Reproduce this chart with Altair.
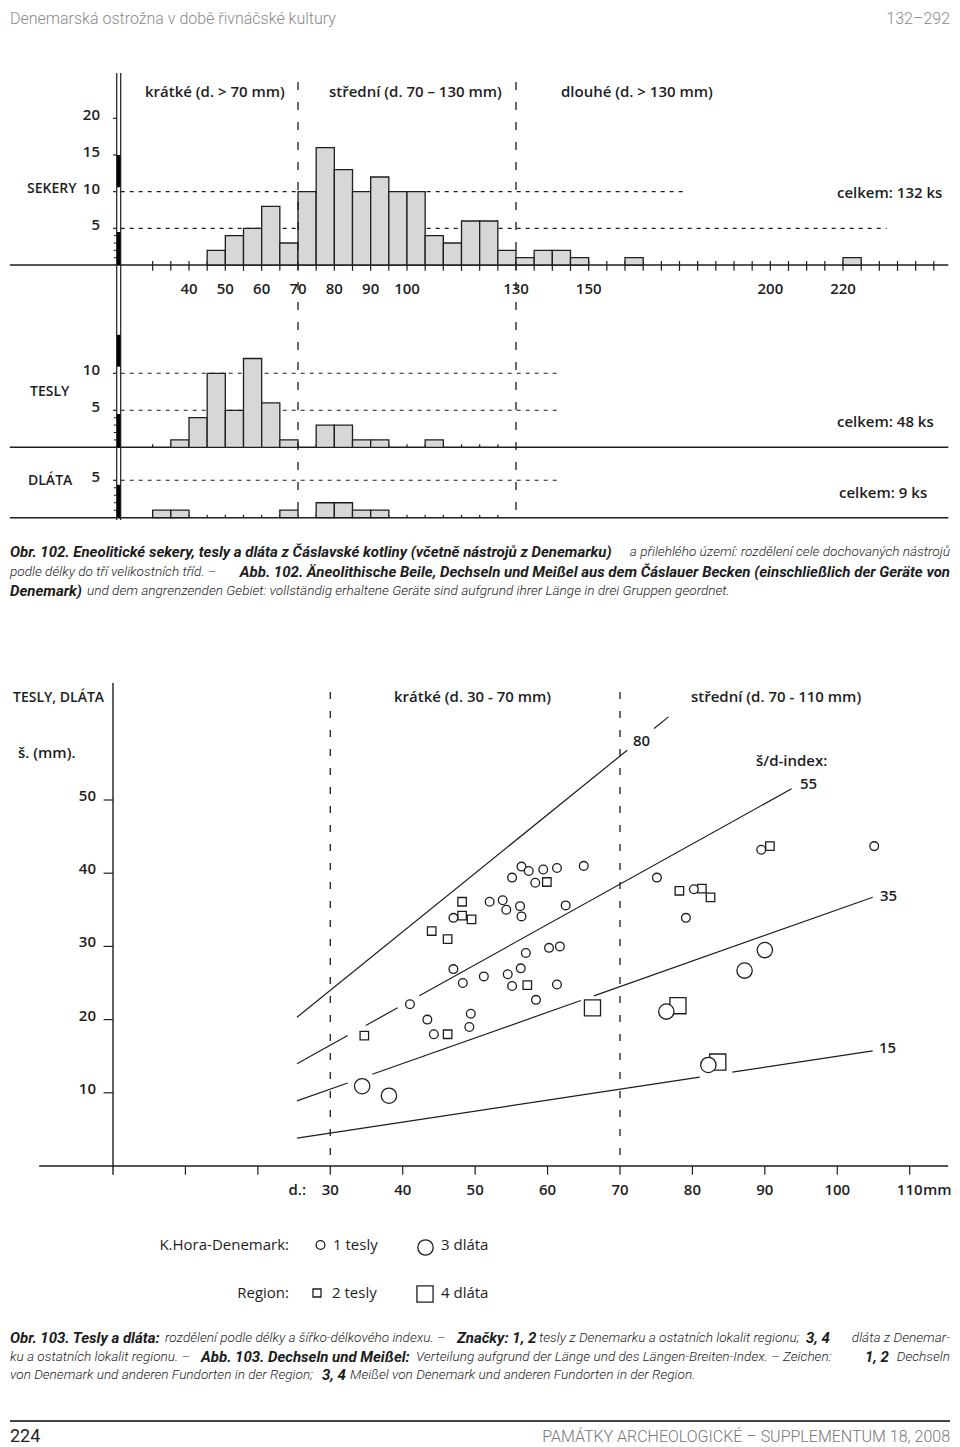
import altair as alt
import pandas as pd

# ===================== DATA =====================
# Obr. 102 - histograms of tool length (bin start in mm, bins 5 mm wide, counts)
sekery_start = [45, 50, 55, 60, 65, 70, 75, 80, 85, 90, 95, 100, 105, 110, 115, 120, 125, 130, 135, 140, 145, 160, 220]
sekery_count = [2, 4, 5, 8, 3, 10, 16, 13, 10, 12, 10, 10, 4, 3, 6, 6, 2, 1, 2, 2, 1, 1, 1]
tesly_start = [35, 40, 45, 50, 55, 60, 65, 75, 80, 85, 90, 105]
tesly_count = [1, 4, 10, 5, 12, 6, 1, 3, 3, 1, 1, 1]
dlata_start = [30, 35, 65, 75, 80, 85, 90]
dlata_count = [1, 1, 1, 2, 2, 1, 1]
BIN = 5
hist_x_labels = [40, 50, 60, 70, 80, 90, 100, 130, 150, 200, 220]
hist_class_bounds = [70, 130]
sekery_y_ticks = [5, 10, 15, 20]
tesly_y_ticks = [5, 10]
dlata_y_ticks = [5]
minor_y_ticks = [1, 2, 3, 4]

# Obr. 103 - length (d.) vs width (š.) in mm
tesly_dk_d = [47.0, 47.0, 48.3, 56.4, 57.4, 59.4, 61.3, 65.0, 55.1, 58.3, 52.0, 53.8, 54.3, 56.2, 56.4, 62.5,
              75.1, 80.2, 79.1, 89.5, 105.1, 60.2, 61.7, 57.0, 51.2, 54.5, 56.3, 55.1, 61.3, 58.4,
              41.0, 43.4, 44.3, 49.4, 49.2]
tesly_dk_s = [33.9, 26.9, 25.0, 40.9, 40.3, 40.5, 40.7, 41.0, 39.4, 38.7, 36.1, 36.3, 35.0, 35.5, 34.1, 35.6,
              39.4, 37.8, 33.9, 43.2, 43.7, 29.8, 30.0, 29.1, 25.9, 26.2, 27.0, 24.6, 24.8, 22.7,
              22.1, 20.0, 18.0, 20.8, 19.0]
tesly_reg_d = [48.2, 48.2, 49.5, 44.0, 46.2, 59.9, 78.2, 81.3, 82.5, 90.7, 57.2, 34.7, 46.2]
tesly_reg_s = [36.1, 34.2, 33.7, 32.1, 31.0, 38.8, 37.6, 37.9, 36.7, 43.7, 24.7, 17.8, 18.0]
dlata_dk_d = [90.0, 87.2, 76.4, 82.2, 34.4, 38.1]
dlata_dk_s = [29.5, 26.7, 21.1, 13.8, 10.9, 9.6]
dlata_reg_d = [66.2, 78.0, 83.5]
dlata_reg_s = [21.6, 21.9, 14.2]

# sirka/delka index reference lines: index value and drawn pieces (start, end in mm of length)
index_values = [80, 80, 55, 55, 55, 35, 35, 35, 15, 15]
index_from = [25.4, 74.7, 25.4, 34.9, 42.3, 25.4, 35.8, 66.4, 25.4, 85.5]
index_to = [71.0, 76.7, 32.4, 39.3, 93.7, 32.4, 64.6, 104.9, 81.0, 104.9]
scatter_x_ticks = [10, 20, 30, 40, 50, 60, 70, 80, 90, 100, 110]
scatter_x_labels = [30, 40, 50, 60, 70, 80, 90, 100, 110]
scatter_y_ticks = [10, 20, 30, 40, 50]
scatter_class_bounds = [30, 70]

# ===================== STYLE / LAYOUT =====================
INK = "#1e1e1e"
BAR = "#d7d7d7"
HEAD = "#8a8a8a"
SANS = "Open Sans"
CAP = "Roboto"
CAP_BOLD = 15
CAP_LIGHT = 13.6


def P(v):
    """page pixel -> chart pixel (page has an 8px margin)"""
    return v - 8


def lin(domain, page_range):
    return alt.Scale(domain=domain, range=[P(page_range[0]), P(page_range[1])], nice=False, zero=False)


HX = lin([40, 220], [189, 843])
SEK_Y = lin([0, 20], [265, 118.3])
TES_Y = lin([0, 10], [447.3, 373.3])
DLA_Y = lin([0, 5], [517.7, 480.3])
SX = lin([0, 110], [113, 909.7])
SY = lin([0, 50], [1166, 800])


def X(f, s):
    return alt.X(f, type="quantitative", scale=s, axis=None)


def Y(f, s):
    return alt.Y(f, type="quantitative", scale=s, axis=None)


ONE = pd.DataFrame({"k": [0]})
layers = []


def text_at(txt, x, y, size=15, weight=600, align="left", color=INK, font=SANS, style="normal"):
    layers.append(
        alt.Chart(ONE).mark_text(text=txt, align=align, baseline="middle", fontSize=size,
                                 fontWeight=weight, font=font, fontStyle=style, color=color)
        .encode(x=alt.value(P(x)), y=alt.value(P(y)))
    )


# ---------------- header ----------------
text_at("Denemarská ostrožna v době řivnáčské kultury", 10, 18.5, size=16, weight=300, font=CAP, color=HEAD)
text_at("132–292", 950, 18.5, size=16, weight=300, font=CAP, color=HEAD, align="right")

# ---------------- Obr. 102 : histograms ----------------
# double vertical axis
layers.append(
    alt.Chart(pd.DataFrame({"x": [20.1, 21.2]})).mark_rule(color=INK, strokeWidth=1.2)
    .encode(x=X("x", HX), y=alt.value(P(73)), y2=alt.value(P(520)))
)

panels = [
    dict(starts=sekery_start, counts=sekery_count, ys=SEK_Y, yt=sekery_y_ticks,
         grid=[10, 5], grid_end=[176.5, 232.0], thick=[(10.6, 15.0), (0, 4.5)],
         tick_top=0.55, tick_bot=-0.8, tick_last=245),
    dict(starts=tesly_start, counts=tesly_count, ys=TES_Y, yt=tesly_y_ticks,
         grid=[10, 5], grid_end=[141.5, 141.5], thick=[(10.9, 15.2), (0, 4.5)],
         tick_top=0.4, tick_bot=0, tick_last=125),
    dict(starts=dlata_start, counts=dlata_count, ys=DLA_Y, yt=dlata_y_ticks,
         grid=[5], grid_end=[141.5], thick=[(0, 4.4)],
         tick_top=0.4, tick_bot=0, tick_last=125),
]

for p in panels:
    ys = p["ys"]
    # baseline
    layers.append(
        alt.Chart(pd.DataFrame({"x0": [-9.3], "x1": [249.0], "y": [0]}))
        .mark_rule(color=INK, strokeWidth=1.4)
        .encode(x=X("x0", HX), x2="x1", y=Y("y", ys))
    )
    # baseline ticks
    tdf = pd.DataFrame({"x": list(range(30, p["tick_last"] + 1, 5))})
    tdf["y0"] = p["tick_top"]
    tdf["y1"] = p["tick_bot"]
    layers.append(
        alt.Chart(tdf).mark_rule(color=INK, strokeWidth=1.2)
        .encode(x=X("x", HX), y=Y("y0", ys), y2="y1")
    )
    # dashed levels
    gdf = pd.DataFrame({"y": p["grid"], "x1": p["grid_end"]})
    gdf["x0"] = 21.2
    layers.append(
        alt.Chart(gdf).mark_rule(color=INK, strokeWidth=1.1, strokeDash=[4, 5])
        .encode(x=X("x0", HX), x2="x1", y=Y("y", ys))
    )
    # bars
    bdf = pd.DataFrame({"start": p["starts"], "count": p["counts"]})
    bdf["end"] = bdf["start"] + BIN
    bdf["zero"] = 0
    layers.append(
        alt.Chart(bdf).mark_rect(fill=BAR, stroke=INK, strokeWidth=1.3)
        .encode(x=X("start", HX), x2="end", y=Y("count", ys), y2="zero")
    )
    # thick axis segments
    kdf = pd.DataFrame({"y0": [a for a, b in p["thick"]], "y1": [b for a, b in p["thick"]]})
    kdf["x"] = 20.65
    layers.append(
        alt.Chart(kdf).mark_rule(color="#000000", strokeWidth=3.4)
        .encode(x=X("x", HX), y=Y("y0", ys), y2="y1")
    )
    # y ticks (major + minor)
    mdf = pd.DataFrame({"y": p["yt"]})
    mdf["x0"] = 19.1
    mdf["x1"] = 20.1
    layers.append(
        alt.Chart(mdf).mark_rule(color=INK, strokeWidth=1.2)
        .encode(x=X("x0", HX), x2="x1", y=Y("y", ys))
    )
    ndf = pd.DataFrame({"y": minor_y_ticks})
    ndf["x0"] = 19.3
    ndf["x1"] = 20.1
    layers.append(
        alt.Chart(ndf).mark_rule(color=INK, strokeWidth=1.0)
        .encode(x=X("x0", HX), x2="x1", y=Y("y", ys))
    )
    # y tick labels
    layers.append(
        alt.Chart(mdf).mark_text(align="right", baseline="middle", dy=-3, fontSize=15,
                                 fontWeight=600, font=SANS, color=INK)
        .encode(x=alt.value(P(100)), y=Y("y", ys), text=alt.Text("y:Q"))
    )

# x labels of the histograms
layers.append(
    alt.Chart(pd.DataFrame({"v": hist_x_labels})).mark_text(align="center", baseline="middle",
                                                            fontSize=15, fontWeight=600, font=SANS, color=INK)
    .encode(x=X("v", HX), y=alt.value(P(289)), text=alt.Text("v:Q"))
)
# class boundaries
layers.append(
    alt.Chart(pd.DataFrame({"x": hist_class_bounds})).mark_rule(color=INK, strokeWidth=1.3, strokeDash=[8, 12])
    .encode(x=X("x", HX), y=alt.value(P(82)), y2=alt.value(P(518)))
)

text_at("krátké (d. > 70 mm)", 145, 92)
text_at("střední (d. 70 – 130 mm)", 329, 92)
text_at("dlouhé (d. > 130 mm)", 561, 92)
text_at("SEKERY", 27, 189, size=14)
text_at("TESLY", 30, 392, size=14)
text_at("DLÁTA", 28, 481, size=14)
text_at("celkem: 132 ks", 837, 193)
text_at("celkem: 48 ks", 837, 422)
text_at("celkem: 9 ks", 839, 493)

# ---------------- captions ----------------
cap_lines = [
    (552, [("Obr. 102. Eneolitické sekery, tesly a dláta z Čáslavské kotliny (včetně nástrojů z Denemarku)", True, 10, "left"),
           ("a přilehlého území: rozdělení cele dochovaných nástrojů", False, 950, "right")]),
    (572, [("podle délky do tří velikostních tříd. –", False, 10, "left"),
           ("Abb. 102. Äneolithische Beile, Dechseln und Meißel aus dem Čáslauer Becken (einschließlich der Geräte von", True, 950, "right")]),
    (591, [("Denemark)", True, 10, "left"),
           ("und dem angrenzenden Gebiet: vollständig erhaltene Geräte sind aufgrund ihrer Länge in drei Gruppen geordnet.", False, 87, "left")]),
    (1338, [("Obr. 103. Tesly a dláta:", True, 10, "left"),
            ("rozdělení podle délky a šířko-délkového indexu. –", False, 165, "left"),
            ("Značky: 1, 2", True, 457, "left"),
            ("tesly z Denemarku a ostatních lokalit regionu;", False, 539, "left"),
            ("3, 4", True, 806, "left"),
            ("dláta z Denemar-", False, 950, "right")]),
    (1357, [("ku a ostatních lokalit regionu. –", False, 10, "left"),
            ("Abb. 103. Dechseln und Meißel:", True, 201, "left"),
            ("Verteilung aufgrund der Länge und des Längen-Breiten-Index. – Zeichen:", False, 416, "left"),
            ("1, 2", True, 865, "left"),
            ("Dechseln", False, 950, "right")]),
    (1375, [("von Denemark und anderen Fundorten in der Region;", False, 10, "left"),
            ("3, 4", True, 322, "left"),
            ("Meißel von Denemark und anderen Fundorten in der Region.", False, 350, "left")]),
]
for y, segs in cap_lines:
    for txt, bold, x, al in segs:
        text_at(txt, x, y, size=CAP_BOLD if bold else CAP_LIGHT, weight=700 if bold else 300, align=al,
                font=CAP, style="italic", color="#1c1c1c")

# ---------------- Obr. 103 : scatter ----------------
layers.append(
    alt.Chart(pd.DataFrame({"x": [0], "y0": [66.0], "y1": [-1.2]})).mark_rule(color=INK, strokeWidth=1.4)
    .encode(x=X("x", SX), y=Y("y0", SY), y2="y1")
)
layers.append(
    alt.Chart(pd.DataFrame({"x0": [-10.2], "x1": [115.3], "y": [0]})).mark_rule(color=INK, strokeWidth=1.4)
    .encode(x=X("x0", SX), x2="x1", y=Y("y", SY))
)
ytk = pd.DataFrame({"y": scatter_y_ticks})
ytk["x0"] = -1.3
ytk["x1"] = 0
layers.append(
    alt.Chart(ytk).mark_rule(color=INK, strokeWidth=1.2).encode(x=X("x0", SX), x2="x1", y=Y("y", SY))
)
layers.append(
    alt.Chart(ytk).mark_text(align="right", baseline="middle", dy=-4, fontSize=15, fontWeight=600,
                             font=SANS, color=INK)
    .encode(x=alt.value(P(96)), y=Y("y", SY), text=alt.Text("y:Q"))
)
xtk = pd.DataFrame({"x": scatter_x_ticks})
xtk["y0"] = 0
xtk["y1"] = -1.2
layers.append(
    alt.Chart(xtk).mark_rule(color=INK, strokeWidth=1.2).encode(x=X("x", SX), y=Y("y0", SY), y2="y1")
)
layers.append(
    alt.Chart(pd.DataFrame({"x": scatter_x_labels})).mark_text(align="center", baseline="middle", fontSize=15,
                                                             fontWeight=600, font=SANS, color=INK)
    .encode(x=X("x", SX), y=alt.value(P(1190)), text=alt.Text("x:Q"))
)
layers.append(
    alt.Chart(pd.DataFrame({"x": scatter_class_bounds})).mark_rule(color=INK, strokeWidth=1.3, strokeDash=[7, 12])
    .encode(x=X("x", SX), y=alt.value(P(692)), y2=alt.value(P(1166)))
)
idx = pd.DataFrame({"index": index_values, "x0": index_from, "x1": index_to})
idx["y0"] = idx["index"] * idx["x0"] / 100
idx["y1"] = idx["index"] * idx["x1"] / 100
layers.append(
    alt.Chart(idx).mark_rule(color=INK, strokeWidth=1.2)
    .encode(x=X("x0", SX), x2="x1", y=Y("y0", SY), y2="y1")
)


def symbols(d, s, shape, size):
    df = pd.DataFrame({"d": d, "s": s})
    layers.append(
        alt.Chart(df).mark_point(shape=shape, size=size, filled=True, fill="white", stroke=INK,
                                 strokeWidth=1.3, opacity=1)
        .encode(x=X("d", SX), y=Y("s", SY))
    )


symbols(tesly_reg_d, tesly_reg_s, "square", 72)
symbols(dlata_reg_d, dlata_reg_s, "square", 260)
symbols(tesly_dk_d, tesly_dk_s, "circle", 76)
symbols(dlata_dk_d, dlata_dk_s, "circle", 236)

text_at("TESLY, DLÁTA", 13, 698, size=14)
text_at("š. (mm).", 18, 753)
text_at("krátké (d. 30 - 70 mm)", 394, 697)
text_at("střední (d. 70 - 110 mm)", 691, 697)
text_at("80", 641.5, 741, align="center")
text_at("š/d-index:", 756, 761)
text_at("55", 800, 784)
text_at("35", 880, 896)
text_at("15", 879, 1048)
text_at("d.:", 306, 1190, align="right")
text_at("mm", 923, 1190)

# ---------------- legend ----------------
leg = [("circle", 76, 320.5, 1245), ("circle", 236, 425.5, 1247.5), ("square", 64, 317, 1293), ("square", 260, 425, 1294)]
for shape, size, lx, ly in leg:
    layers.append(
        alt.Chart(ONE).mark_point(shape=shape, size=size, filled=True, fill="white", stroke=INK,
                                  strokeWidth=1.3, opacity=1)
        .encode(x=alt.value(P(lx)), y=alt.value(P(ly)))
    )
text_at("K.Hora-Denemark:", 289, 1245, weight=400, align="right")
text_at("1  tesly", 333, 1245, weight=400)
text_at("3  dláta", 441, 1245, weight=400)
text_at("Region:", 289, 1293, weight=400, align="right")
text_at("2  tesly", 332, 1293, weight=400)
text_at("4  dláta", 441, 1293, weight=400)

# ---------------- footer ----------------
layers.append(
    alt.Chart(ONE).mark_rule(color="#444444", strokeWidth=1.8)
    .encode(x=alt.value(P(10)), x2=alt.value(P(950)), y=alt.value(P(1421)))
)
text_at("224", 10, 1437, size=18, weight=400, font=CAP, color="#222222")
text_at("PAMÁTKY ARCHEOLOGICKÉ – SUPPLEMENTUM 18, 2008", 950, 1437, size=16, weight=300, font=CAP,
        color="#777777", align="right")

chart = (
    alt.layer(*layers)
    .resolve_scale(x="independent", y="independent")
    .properties(width=944, height=1437, padding=0, autosize=alt.AutoSizeParams(type="none"),
                background="white")
    .configure_view(strokeWidth=0)
)

chart.save("out.html", embed_options={"renderer": "svg", "actions": False})
